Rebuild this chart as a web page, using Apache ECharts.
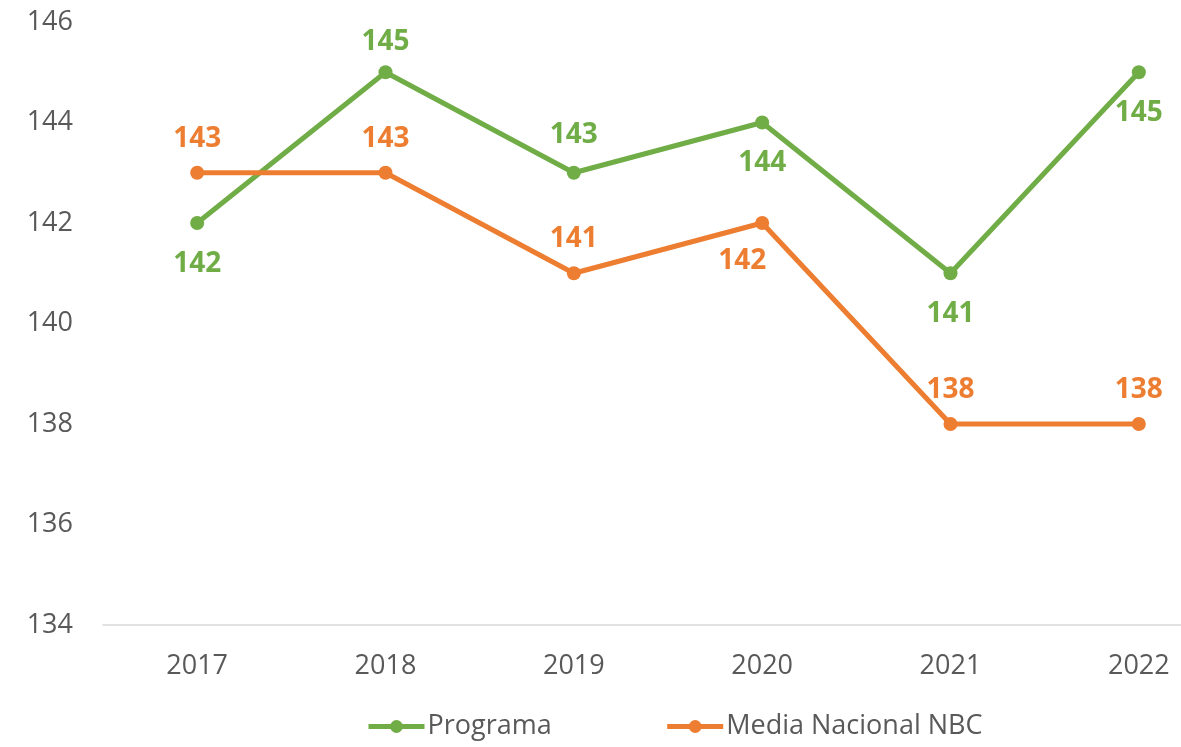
<!DOCTYPE html>
<html>
<head>
<meta charset="utf-8">
<script src="https://cdn.jsdelivr.net/npm/echarts@6/dist/echarts.min.js"></script>
<style>
html,body{margin:0;padding:0;background:#fff;overflow:hidden;}
/* plot runs past the right edge in the original, so the canvas is wider than the window */
#chart{width:1233px;height:747px;}
</style>
</head>
<body>
<div id="chart"></div>
<script>
var years = ['2017', '2018', '2019', '2020', '2021', '2022'];
var programa = [142, 145, 143, 144, 141, 145];
var mediaNacional = [143, 143, 141, 142, 138, 138];
// label side for each point
var programaPos = ['bottom', 'top', 'top', 'bottom', 'bottom', 'bottom'];
var mediaPos = ['top', 'top', 'top', 'bottom', 'top', 'top'];

var green = '#70AD47';
var orange = '#ED7D31';
var txt = '#595959';
var font = 'Open Sans';

function pts(vals, pos, tweak) {
	return vals.map(function (v, i) {
		var lb = {position: pos[i], distance: pos[i] == 'top' ? 13 : 20};
		if (tweak && tweak[i]) {
			for (var k in tweak[i]) lb[k] = tweak[i][k];
		}
		return {value: v, label: lb};
	});
}

var chart = echarts.init(document.getElementById('chart'));
var option = {
	backgroundColor: '#fff',
	textStyle: {fontFamily: font},
	grid: {
		left: 103,
		right: 0,
		top: 22,
		bottom: 122
	},
	legend: {
		bottom: 2,
		left: 361,
		itemWidth: 56,
		itemHeight: 16,
		itemGap: 113,
		lineStyle: {width: 5},
		textStyle: {color: txt, fontSize: 27, fontFamily: font, padding: [0, 0, 0, -2]},
		data: ['Programa', 'Media Nacional NBC']
	},
	xAxis: {
		type: 'category',
		data: years,
		boundaryGap: true,
		axisLine: {lineStyle: {color: '#d9d9d9', width: 1.5}},
		axisTick: {show: false},
		axisLabel: {color: txt, fontSize: 27, margin: 28}
	},
	yAxis: {
		type: 'value',
		min: 134,
		max: 146,
		interval: 2,
		splitLine: {show: false},
		axisLine: {show: false},
		axisTick: {show: false},
		axisLabel: {color: txt, fontSize: 27, margin: 30}
	},
	series: [
		{
			name: 'Programa',
			type: 'line',
			data: pts(programa, programaPos, {1: {distance: 9}, 2: {distance: 17}}),
			symbol: 'circle',
			symbolSize: 14,
			lineStyle: {color: green, width: 5},
			itemStyle: {color: green},
			label: {show: true, color: green, fontWeight: 'bold', fontSize: 28}
		},
		{
			name: 'Media Nacional NBC',
			type: 'line',
			data: pts(mediaNacional, mediaPos, {3: {offset: [-20, 0], distance: 17}}),
			symbol: 'circle',
			symbolSize: 14,
			lineStyle: {color: orange, width: 5},
			itemStyle: {color: orange},
			label: {show: true, color: orange, fontWeight: 'bold', fontSize: 28}
		}
	]
};
chart.setOption(option);
</script>
</body>
</html>
